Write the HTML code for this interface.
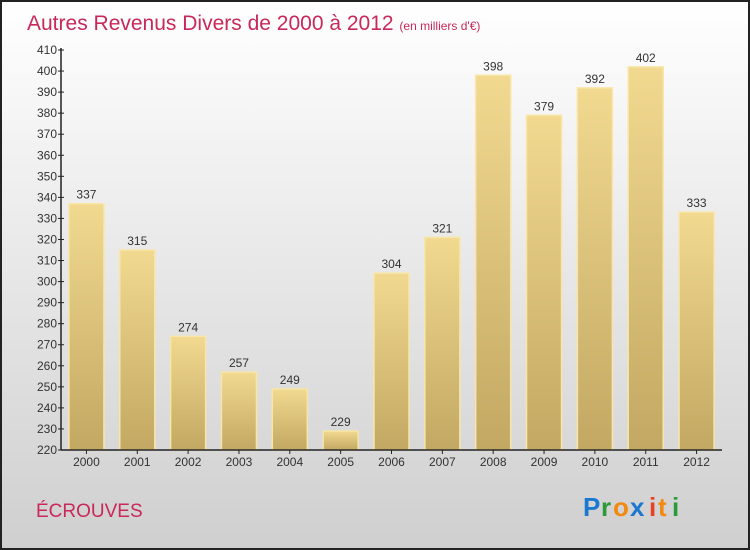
<!DOCTYPE html>
<html><head><meta charset="utf-8"><style>
body{margin:0;}
#wrap{width:750px;height:550px;position:relative;overflow:hidden;}
text{font-family:"Liberation Sans",sans-serif;}
</style></head><body>
<div id="wrap">
<svg id="chart" width="750" height="550" xmlns="http://www.w3.org/2000/svg">
<defs>
<linearGradient id="bg" x1="0" y1="0" x2="0" y2="1"><stop offset="0" stop-color="#ffffff"/><stop offset="1" stop-color="#cfcfcf"/></linearGradient>
<linearGradient id="bar" x1="0" y1="0" x2="0" y2="1"><stop offset="0" stop-color="#f2d990"/><stop offset="1" stop-color="#c2a862"/></linearGradient>
</defs>
<rect x="1" y="1" width="748" height="548" fill="url(#bg)" stroke="#222" stroke-width="2"/>
<text x="27" y="30" font-size="21" fill="#c8285a">Autres Revenus Divers de 2000 à 2012 <tspan font-size="12">(en milliers d'€)</tspan></text>
<text x="36" y="517" font-size="19" fill="#c8285a">ÉCROUVES</text>
<g id="logo" font-size="26" font-family="'DejaVu Sans',sans-serif" font-weight="bold">
<text x="583" y="516" fill="#1a78d0">P</text><text x="601" y="516" fill="#2a9a3a">r</text><text x="613" y="516" fill="#f08a10">o</text><text x="630" y="516" fill="#1a78d0">x</text><text x="649" y="516" fill="#e84020">i</text><text x="658" y="516" fill="#f08a10">t</text><text x="672" y="516" fill="#2a9a3a">i</text>
</g>
<g id="bars"></g>
<g id="axes"></g>
</svg>
</div>
<script>
const categories=["2000","2001","2002","2003","2004","2005","2006","2007","2008","2009","2010","2011","2012"];
const values=[337,315,274,257,249,229,304,321,398,379,392,402,333];
const yTicks=[220,230,240,250,260,270,280,290,300,310,320,330,340,350,360,370,380,390,400,410];
const NS="http://www.w3.org/2000/svg";
const yMin=220,yMax=410,plotTop=50,plotBottom=450,plotLeft=61,plotRight=722;
function y(v){return plotBottom-(v-yMin)/(yMax-yMin)*(plotBottom-plotTop);}
const step=(plotRight-plotLeft)/categories.length;
function x(i){return plotLeft+step*(i+0.5);}
const bw=35;
const bars=document.getElementById('bars'),axes=document.getElementById('axes');
function mk(t,a,p){const e=document.createElementNS(NS,t);for(const k in a)e.setAttribute(k,a[k]);p.appendChild(e);return e;}
values.forEach((v,i)=>{
 const r=mk('rect',{x:x(i)-bw/2,y:y(v),width:bw,height:plotBottom-y(v),fill:'url(#bar)',stroke:'#f7e6a8','stroke-width':1.5},bars);
 
 
 const t=mk('text',{x:x(i),y:y(v)-5,'text-anchor':'middle','font-size':12,fill:'#333'},bars);
 t.textContent=v;
 
 
 const c=mk('text',{x:x(i),y:plotBottom+16,'text-anchor':'middle','font-size':12,fill:'#333'},axes);
 c.textContent=categories[i];
 
 
 mk('line',{x1:x(i),x2:x(i),y1:plotBottom,y2:plotBottom+4,stroke:'#222'},axes);
});
const ya=mk('line',{x1:plotLeft,x2:plotLeft,y1:plotTop-2,y2:plotBottom,stroke:'#222','stroke-width':1.5},axes);


const xa=mk('line',{x1:plotLeft,x2:plotRight,y1:plotBottom,y2:plotBottom,stroke:'#222','stroke-width':1.5},axes);


yTicks.forEach(v=>{
 mk('line',{x1:plotLeft-3,x2:plotLeft+3,y1:y(v),y2:y(v),stroke:'#222'},axes);
 const t=mk('text',{x:plotLeft-4,y:y(v)+4,'text-anchor':'end','font-size':12,fill:'#333'},axes);
 t.textContent=v;
 
 
});
</script>
</body></html>
